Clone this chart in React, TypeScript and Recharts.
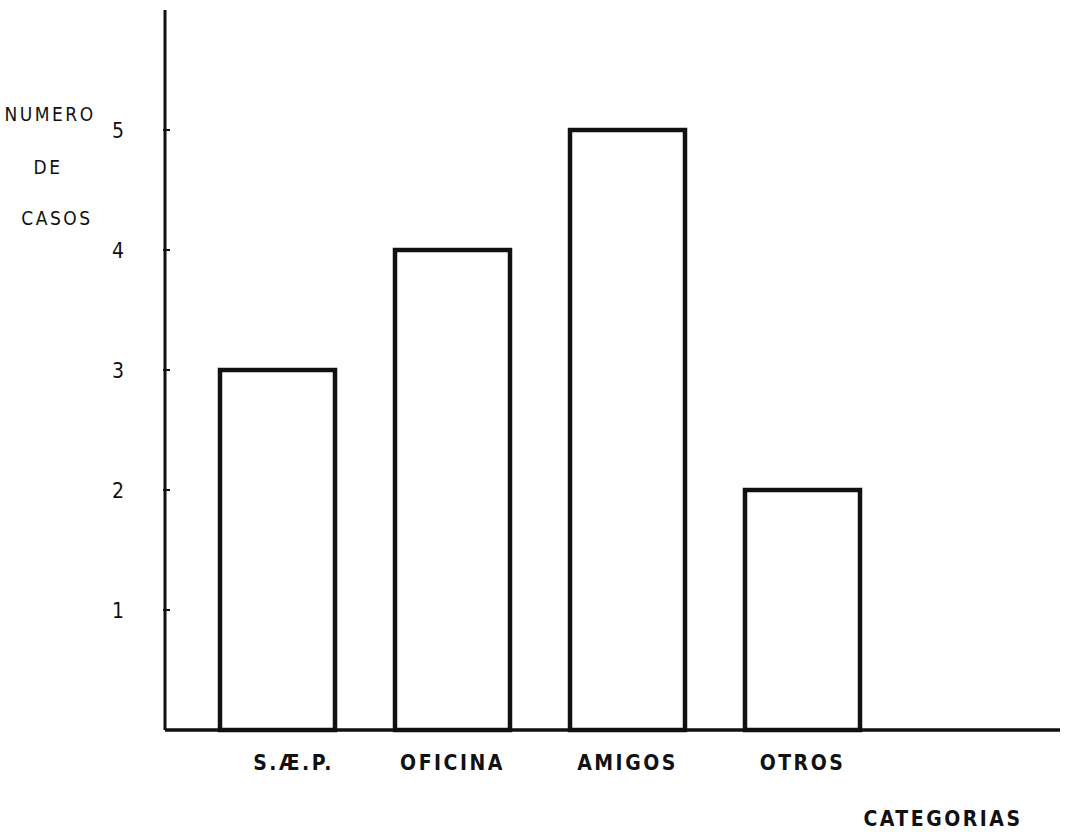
import React from "react";
import { BarChart, Bar, XAxis, YAxis } from "recharts";

const categories = ["S.Æ.P.", "OFICINA", "AMIGOS", "OTROS"];
const casos = [3, 4, 5, 2];
const yTicks = [1, 2, 3, 4, 5];

const data = categories.map((c, i) => ({ name: c, casos: casos[i] }));

const FONT = "'DejaVu Sans Condensed', 'DejaVu Sans', sans-serif";

function XTick(props: any) {
  const { x, y, payload } = props;
  return (
    <text x={x + (payload.index === 0 ? 16 : 0)} y={y + 32} textAnchor="middle"
      fontFamily={FONT} fontSize={21} fontWeight="bold" letterSpacing={2.5} fill="#111">
      {payload.value}
    </text>
  );
}

function YTick(props: any) {
  const { x, y, payload } = props;
  return (
    <g>
      <line x1={x + 6} x2={x + 13} y1={y} y2={y} stroke="#111" strokeWidth={2} />
      <text x={x - 39} y={y + 8} textAnchor="middle" fontFamily={FONT} fontSize={21} fill="#111">
        {payload.value}
      </text>
    </g>
  );
}

export default function App() {
  return (
    <div style={{ position: "absolute", left: 0, top: 0, width: 1069, height: 832, background: "#fff" }}>
      <BarChart width={1069} height={832} data={data}
        margin={{ top: 10, right: 9, left: 0, bottom: 72 }}
        barCategoryGap={30}>
        <XAxis dataKey="name" padding={{ left: 25, right: 170 }}
          axisLine={{ stroke: "#111", strokeWidth: 3.5 }} tickLine={false}
          tick={<XTick />} interval={0} />
        <YAxis width={165} domain={[0, 6]} ticks={yTicks} type="number"
          axisLine={{ stroke: "#111", strokeWidth: 3 }} tickLine={false}
          tick={<YTick />} />
        <Bar dataKey="casos" fill="#fff" stroke="#111" strokeWidth={4.5} isAnimationActive={false} />
        <text x={50} y={121} textAnchor="middle" fontFamily={FONT} fontSize={19} letterSpacing={2.5} fill="#111">NUMERO</text>
        <text x={48} y={174} textAnchor="middle" fontFamily={FONT} fontSize={19} letterSpacing={2.5} fill="#111">DE</text>
        <text x={57} y={225} textAnchor="middle" fontFamily={FONT} fontSize={19} letterSpacing={2.5} fill="#111">CASOS</text>
        <text x={943} y={826} textAnchor="middle" fontFamily={FONT} fontSize={21} fontWeight="bold" letterSpacing={2.5} fill="#111">CATEGORIAS</text>
      </BarChart>
    </div>
  );
}
